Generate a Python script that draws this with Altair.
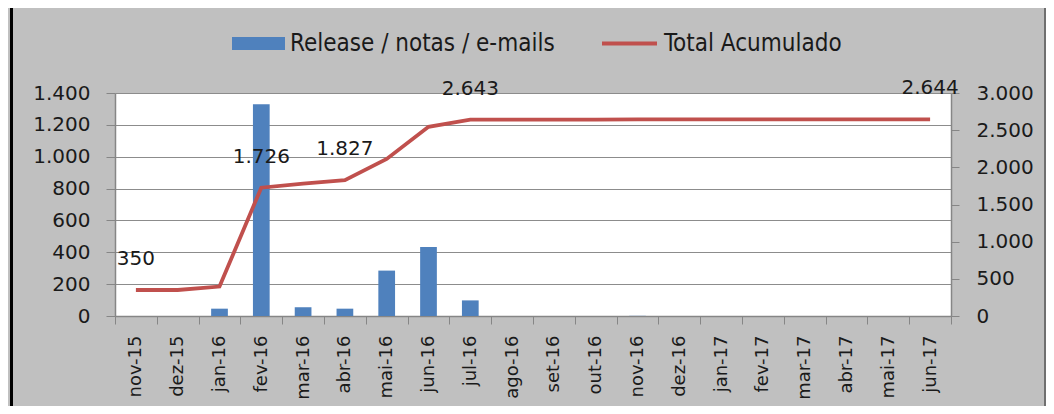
import altair as alt
import pandas as pd

months = ["nov-15", "dez-15", "jan-16", "fev-16", "mar-16", "abr-16", "mai-16",
          "jun-16", "jul-16", "ago-16", "set-16", "out-16", "nov-16", "dez-16",
          "jan-17", "fev-17", "mar-17", "abr-17", "mai-17", "jun-17"]
releases = [0, 0, 46, 1330, 55, 46, 285, 433, 98, 0, 0, 0, 1, 0, 0, 0, 0, 0, 0, 0]
total = [350, 350, 396, 1726, 1781, 1827, 2112, 2545, 2643, 2643, 2643, 2643,
         2644, 2644, 2644, 2644, 2644, 2644, 2644, 2644]
show_label = [1, 0, 0, 1, 0, 1, 0, 0, 1, 0, 0, 0, 0, 0, 0, 0, 0, 0, 0, 1]
left_ticks = [0, 200, 400, 600, 800, 1000, 1200, 1400]
right_ticks = [0, 500, 1000, 1500, 2000, 2500, 3000]

BAR_NAME = "Release / notas / e-mails"
LINE_NAME = "Total Acumulado"

df = pd.DataFrame({
    "mes": months,
    "releases": releases,
    "total": total,
    "show": show_label,
    "s_bar": BAR_NAME,
    "s_line": LINE_NAME,
})

AXIS_FONT = "DejaVu Sans"
LEG_FONT = "Liberation Sans Narrow, DejaVu Sans Condensed, sans-serif"
GRAY = "#868686"
TXT = "#1a1a1a"
fmt = "replace(format(datum.value, ',d'), ',', '.')"

x_enc = alt.X(
    "mes:N", sort=months,
    scale=alt.Scale(paddingInner=0, paddingOuter=0),
    axis=alt.Axis(title=None, labelAngle=270, tickBand="extent", tickSize=8,
                  tickColor=GRAY, domainColor=GRAY, domainWidth=1.5,
                  labelPadding=11, labelFont=AXIS_FONT, labelFontSize=18,
                  labelColor=TXT, grid=False),
)

bars = alt.Chart(df).mark_bar(width={"band": 0.4}).encode(
    x=x_enc,
    y=alt.Y("releases:Q", scale=alt.Scale(domain=[0, 1400], nice=False),
            axis=alt.Axis(title=None, values=left_ticks, labelExpr=fmt, grid=True,
                          gridColor="#8c8c8c", gridWidth=1.2, domainColor=GRAY,
                          domainWidth=1.5, tickColor=GRAY, tickSize=9, labelPadding=16,
                          labelFont=AXIS_FONT, labelFontSize=20, labelColor=TXT)),
    color=alt.Color("s_bar:N", scale=alt.Scale(domain=[BAR_NAME], range=["#4f81bd"]),
                    legend=alt.Legend(title=None, orient="none", legendX=117, legendY=-76,
                                      symbolType="M-1,-0.245H1V0.245H-1Z", symbolSize=2809,
                                      symbolStrokeWidth=0, symbolOpacity=1, padding=0,
                                      labelFont=LEG_FONT, labelFontSize=24, labelLimit=500,
                                      labelColor=TXT, labelOffset=5)),
)

right_axis = alt.Axis(title=None, orient="right", values=right_ticks, labelExpr=fmt,
                      grid=False, domainColor=GRAY, domainWidth=1.5, tickColor=GRAY,
                      tickSize=8, labelPadding=17, labelFont=AXIS_FONT,
                      labelFontSize=20, labelColor=TXT)
right_scale = alt.Scale(domain=[0, 3000], nice=False)

line = alt.Chart(df).mark_line(strokeWidth=3.8).encode(
    x=alt.X("mes:N", sort=months, bandPosition=0.5),
    y=alt.Y("total:Q", scale=right_scale, axis=right_axis),
    stroke=alt.Stroke("s_line:N", scale=alt.Scale(domain=[LINE_NAME], range=["#c0504d"]),
                      legend=alt.Legend(title=None, orient="none", legendX=485, legendY=-79,
                                        symbolType="stroke", symbolSize=3025,
                                        symbolStrokeWidth=4, padding=0,
                                        labelFont=LEG_FONT, labelFontSize=24, labelLimit=500,
                                        labelColor=TXT, labelOffset=5)),
)

labels = alt.Chart(df).transform_filter("datum.show == 1").transform_calculate(
    txt="replace(format(datum.total, ',d'), ',', '.')"
).mark_text(dy=-31, font=AXIS_FONT, fontSize=20, color=TXT).encode(
    x=alt.X("mes:N", sort=months, bandPosition=0.5),
    y=alt.Y("total:Q", scale=right_scale, axis=right_axis),
    text="txt:N",
)

frame_data = alt.Data(values=[{"k": 1}])
left_frame = alt.Chart(frame_data).mark_rule(color="black", strokeWidth=3).encode(
    x=alt.value(-103.5), y=alt.value(-85), y2=alt.value(313))
right_frame = alt.Chart(frame_data).mark_rule(color="#555555", strokeWidth=1.5).encode(
    x=alt.value(930), y=alt.value(-85), y2=alt.value(313))

chart = alt.layer(
    bars, alt.layer(line, labels), left_frame, right_frame
).resolve_scale(y="independent", color="independent").properties(
    width=836, height=223, autosize="none",
    padding={"left": 107, "top": 85, "right": 95, "bottom": 90},
    background="#c0c0c0",
).configure_view(fill="white", stroke="transparent")

chart.save("out.html", embed_options={"renderer": "svg", "actions": False})
